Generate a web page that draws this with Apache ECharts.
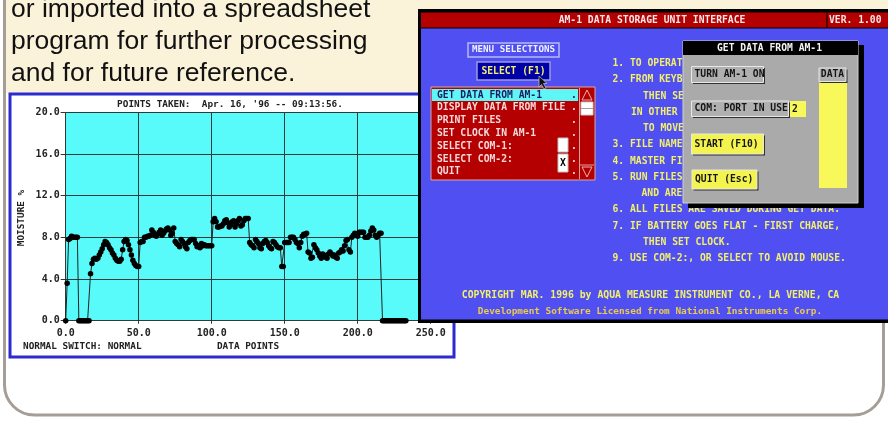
<!DOCTYPE html>
<html>
<head>
<meta charset="utf-8">
<script src="https://cdn.jsdelivr.net/npm/echarts@6/dist/echarts.min.js"></script>
<style>html,body{margin:0;padding:0;background:#fff}#c{width:888px;height:422px}</style>
</head>
<body>
<div id="c"></div>
<script>
// ---- chart data ----
var xTicks = [0, 50, 100, 150, 200, 250];
var yTicks = [0, 4, 8, 12, 16, 20];
var moisture = [
  0, 3.6, 7.8, 7.9, 8.1, 8.0, 8.0, 8.0, 8.0,
  0, 0, 0, 0, 0, 0, 0, 0,
  4.5, 5.5, 5.9, 6.0, 5.9, 6.0, 6.3, 6.6, 6.9, 7.3, 7.6, 7.5, 7.3, 7.0, 6.8, 6.5, 6.3, 6.0,
  5.8, 5.7, 5.7, 5.9, 6.8, 7.6, 7.8, 7.7, 7.3, 6.8, 6.3, 5.8, 5.5, 5.3, 5.2, 5.2,
  7.5, 7.6, 7.6, 8.0, 8.0, 8.1, 8.1, 8.2, 8.7, 8.5, 8.2, 8.1, 8.3, 8.5, 8.7, 8.2, 8.4, 8.6,
  8.8, 8.9, 8.7, 8.2, 8.4, 8.9, 7.6, 7.4, 7.3, 7.1, 7.8, 7.6, 7.4, 7.1, 6.9, 7.5, 7.7, 7.8,
  7.8, 7.8, 7.4, 7.1, 7.2, 7.0, 7.4, 7.2, 7.3, 7.2, 7.2, 7.2, 7.2, 7.2,
  9.5, 9.8, 9.5, 9.0, 9.0, 9.1, 9.1, 9.3, 9.6, 9.7, 9.4, 9.0, 9.2, 9.5, 9.6, 9.0, 9.3, 9.6,
  9.8, 9.1, 9.2, 9.6, 9.8, 9.8, 9.8,
  7.5, 7.3, 7.2, 7.0, 7.8, 7.6, 7.4, 7.0, 6.9, 7.4, 7.6, 7.7, 7.5, 7.2, 7.0, 6.9, 7.6, 7.5,
  7.3, 7.1, 7.0, 7.0, 5.2, 5.2,
  7.5, 7.5, 7.5, 7.5, 8.0, 8.0, 8.0, 7.8, 7.5, 7.4, 7.0, 7.5, 8.1, 8.3, 8.3, 8.4, 6.6, 6.5,
  6.0, 6.1, 7.3, 7.0, 6.8, 6.5, 6.2, 6.0, 6.4, 6.3, 6.1, 6.0, 6.4, 6.6, 6.4, 6.2, 6.3, 6.1,
  6.0, 6.5, 6.6, 6.8, 6.7, 7.2, 7.7, 7.8, 6.8, 6.6, 8.0, 8.2, 8.4, 8.3, 8.1, 8.5, 8.5, 8.5,
  8.5, 8.0, 8.0, 8.0, 8.2, 8.6, 8.9, 8.7, 8.2, 8.0, 8.2, 8.4, 8.4,
  0, 0, 0, 0, 0, 0, 0, 0, 0, 0, 0, 0, 0, 0, 0, 0, 0
];
var chartTitle = "POINTS TAKEN:  Apr. 16, '96 -- 09:13:56.";
var yName = "MOISTURE %";
var xName = "DATA POINTS";
var switchText = "NORMAL SWITCH: NORMAL";
var slideLines = ["or imported into a spreadsheet", "program for further processing", "and for future reference."];

var seriesData = moisture.map(function (v, i) { return [i, v]; });

var MONO = "'DejaVu Sans Mono', monospace";
function mono(sz) { return 'bold ' + sz + 'px ' + MONO; }
function T(x, y, text, fill, font, align, z, extra) {
  var o = { type: 'text', x: x, y: y, z: z == null ? 10 : z,
    style: { text: text, fill: fill, font: font, align: align || 'left', textAlign: align || 'left',
      verticalAlign: 'middle', textVerticalAlign: 'middle' } };
  if (extra) for (var k in extra) o[k] = extra[k];
  return o;
}
function R(x, y, w, h, fill, stroke, lw, z, r) {
  return { type: 'rect', z: z == null ? 10 : z, shape: { x: x, y: y, width: w, height: h, r: r || 0 },
    style: { fill: fill, stroke: stroke || null, lineWidth: lw || 0 } };
}
function L(x1, y1, x2, y2, stroke, lw, z) {
  return { type: 'line', z: z == null ? 10 : z, shape: { x1: x1, y1: y1, x2: x2, y2: y2 },
    style: { stroke: stroke, lineWidth: lw || 1 } };
}
function P(points, fill, stroke, lw, z) {
  return { type: 'polygon', z: z == null ? 10 : z, shape: { points: points },
    style: { fill: fill, stroke: stroke || null, lineWidth: lw || 0 } };
}

var g = [];
// slide background
g.push(R(4.5, -40, 879, 455, '#ffffff', '#a59e96', 3, -10, 30));
g.push(R(6, 0, 882, 93, '#faf2d9', null, 0, -9));
slideLines.forEach(function (s, i) {
  g.push({ type: 'text', x: 11, y: 23 + i * 32, z: -8,
    style: { text: s, fill: '#111', font: '26.5px "Liberation Sans", Arial, sans-serif',
      align: 'left', textAlign: 'left', verticalAlign: 'bottom', textVerticalAlign: 'bottom' } });
});
// chart screenshot frame
g.push(R(10, 94, 444, 263, '#ffffff', '#2b2bd0', 3, -7));
g.push(T(230, 105, chartTitle, '#222', mono(9.4), 'center', -6));
g.push(T(22, 218, yName, '#222', mono(9.4), 'center', -6, { rotation: Math.PI / 2 }));
g.push(T(23, 347, switchText, '#222', mono(9.4), 'left', -6));
g.push(T(248, 347, xName, '#222', mono(9.4), 'center', -6));

// ---- software UI screenshot ----
var Y = '#f2f06a', BL = '#5050f2', RED = '#b40000';
g.push(R(418, 9, 470, 314, '#000'));
g.push(R(421, 12.5, 467, 15, RED));
g.push(L(827, 12.5, 827, 27.5, '#300000', 1.5));
g.push(T(652, 20, 'AM-1 DATA STORAGE UNIT INTERFACE', '#f6e8e8', mono(9.7), 'center'));
g.push(T(829, 20, 'VER. 1.00', '#f6e8e8', mono(9.7), 'left'));
g.push(R(421, 28.5, 467, 291, BL));
// menu buttons
g.push(R(468, 43, 91, 14, BL, '#b8b8f0', 1.5));
g.push(T(513.5, 50, 'MENU SELECTIONS', '#f0f0ff', mono(9.2), 'center'));
g.push(R(477, 62, 73, 18, '#0000a8', '#9a9ad8', 1.5));
g.push(T(513.5, 71, 'SELECT (F1)', Y, mono(9.7), 'center'));
// menu list
g.push(R(431, 87, 164, 93, RED, '#d8a8a8', 1));
g.push(R(432, 89, 146, 12, '#60f6f6'));
var items = ['GET DATA FROM AM-1', 'DISPLAY DATA FROM FILE', 'PRINT FILES', 'SET CLOCK IN AM-1',
  'SELECT COM-1:', 'SELECT COM-2:', 'QUIT'];
items.forEach(function (s, i) {
  var yy = 95 + i * 12.8;
  var c = i === 0 ? '#1a1a60' : '#f8dada';
  g.push(T(437, yy, s, c, mono(9.7), 'left'));
  g.push(T(574, yy, '.', c, mono(9.7), 'center'));
});
g.push(L(579.5, 88, 579.5, 179, '#e0a0a0', 1));
g.push(P([[582, 100], [587, 90], [592, 100]], null, '#f0b0b0', 1));
g.push(R(581, 102, 12, 13, '#ffffff', '#d0d0d0', 1));
g.push(L(581, 108.5, 593, 108.5, '#a0a0a0', 1));
g.push(L(580, 165, 594, 165, '#e0a0a0', 1));
g.push(P([[582, 167], [592, 167], [587, 177]], null, '#f0b0b0', 1));
g.push(R(558, 138, 10, 14, '#ffffff', '#c0c0c0', 1));
g.push(R(558, 154, 10, 18, '#ffffff', '#c0c0c0', 1));
g.push(T(563, 163, 'X', '#000', mono(9.7), 'center'));
// mouse cursor
g.push(P([[539, 76], [539, 87], [541.5, 84.5], [544, 89], [546, 88], [543.5, 83.5], [547, 83.5]], '#111', '#ddd', 0.6));
// instruction text
var instr = [
  [612.5, 63, '1. TO OPERATE - SELECT FROM THE MENU'],
  [612.5, 79.5, '2. FROM KEYBOARD USE ALT KEY'],
  [643, 96, 'THEN SELECT BY LETTER,'],
  [631, 112, 'IN OTHER CASES USE ARROWS'],
  [643, 128, 'TO MOVE AND ENTER TO SELECT.'],
  [612.5, 144.5, '3. FILE NAMES ARE DATE CODED.'],
  [612.5, 161, '4. MASTER FILE IS UPDATED.'],
  [612.5, 177, '5. RUN FILES FROM DISK'],
  [641.5, 193, 'AND ARE SORTED BY DATE.'],
  [612.5, 209.5, '6. ALL FILES ARE SAVED DURING GET DATA.'],
  [612.5, 226, '7. IF BATTERY GOES FLAT - FIRST CHARGE,'],
  [643, 242, 'THEN SET CLOCK.'],
  [612.5, 258.5, '9. USE COM-2:, OR SELECT TO AVOID MOUSE.']
];
instr.forEach(function (r) { g.push(T(r[0], r[1], r[2], Y, mono(9.7), 'left')); });
g.push(T(650.5, 295, 'COPYRIGHT MAR. 1996 by AQUA MEASURE INSTRUMENT CO., LA VERNE, CA', Y, mono(9.8), 'center'));
g.push(T(650, 311.5, 'Development Software Licensed from National Instruments Corp.', '#eacb4a', mono(9.4), 'center'));
// dialog
g.push(R(688, 45, 176, 163, '#000', null, 0, 11));
g.push(R(683, 41, 175, 162, '#aaaaaa', '#d0d0d0', 1, 12));
g.push(R(683, 41, 175, 14, '#000', null, 0, 12));
g.push(T(769.5, 48, 'GET DATA FROM AM-1', '#f4f4f4', mono(9.7), 'center', 13));
function btn(x, y, w, h, fill, text, tx) {
  g.push(R(x + 1.5, y + 1.5, w, h, '#303030', null, 0, 13));
  g.push(R(x, y, w, h, fill, '#e8e8e8', 1, 13));
  g.push(T(tx == null ? x + 3 : tx, y + h / 2, text, '#151515', mono(9.7), tx == null ? 'left' : 'center', 14));
}
btn(691.5, 66.5, 72, 16, '#b0b0b0', 'TURN AM-1 ON');
btn(691.5, 101, 97, 15.5, '#b0b0b0', 'COM: PORT IN USE');
g.push(R(790, 101, 16, 16, '#f8f85a', null, 0, 13));
g.push(T(792, 109, '2', '#151515', mono(9.7), 'left', 14));
btn(691.5, 134, 72, 20, '#f4f44e', 'START (F10)');
btn(692, 170, 65, 19, '#f4f44e', 'QUIT (Esc)');
btn(819, 68, 27, 13.5, '#b0b0b0', 'DATA', 832.5);
g.push(R(819, 83, 28, 105, '#f8f85a', null, 0, 13));

var chart = echarts.init(document.getElementById('c'), null, { renderer: 'canvas' });
chart.setOption({
  animation: false,
  backgroundColor: '#ffffff',
  grid: { left: 65.7, top: 112.3, width: 365, height: 208.4, show: true,
    backgroundColor: '#58fafa', borderWidth: 0, containLabel: false, outerBoundsMode: 'none' },
  xAxis: { type: 'value', min: xTicks[0], max: xTicks[xTicks.length - 1], interval: xTicks[1] - xTicks[0],
    axisLine: { show: false },
    axisTick: { show: true, length: 3, lineStyle: { color: '#333' } },
    axisLabel: { margin: 8, color: '#222', fontFamily: MONO, fontWeight: 'bold', fontSize: 10,
      formatter: function (v) { return v.toFixed(1); } },
    splitLine: { show: true, lineStyle: { color: '#2f3b3b', width: 1 } } },
  yAxis: { type: 'value', min: yTicks[0], max: yTicks[yTicks.length - 1], interval: yTicks[1] - yTicks[0],
    axisLine: { show: false },
    axisTick: { show: true, length: 5, lineStyle: { color: '#333' } },
    axisLabel: { margin: 6, color: '#222', fontFamily: MONO, fontWeight: 'bold', fontSize: 10,
      formatter: function (v) { return v.toFixed(1); } },
    splitLine: { show: true, lineStyle: { color: '#2f3b3b', width: 1 } } },
  series: [{ type: 'line', data: seriesData, symbol: 'circle', symbolSize: 5.5, showSymbol: true,
    showAllSymbol: true, lineStyle: { color: '#222', width: 1 }, itemStyle: { color: '#000' } }],
  graphic: { elements: g }
});
</script>
</body>
</html>
